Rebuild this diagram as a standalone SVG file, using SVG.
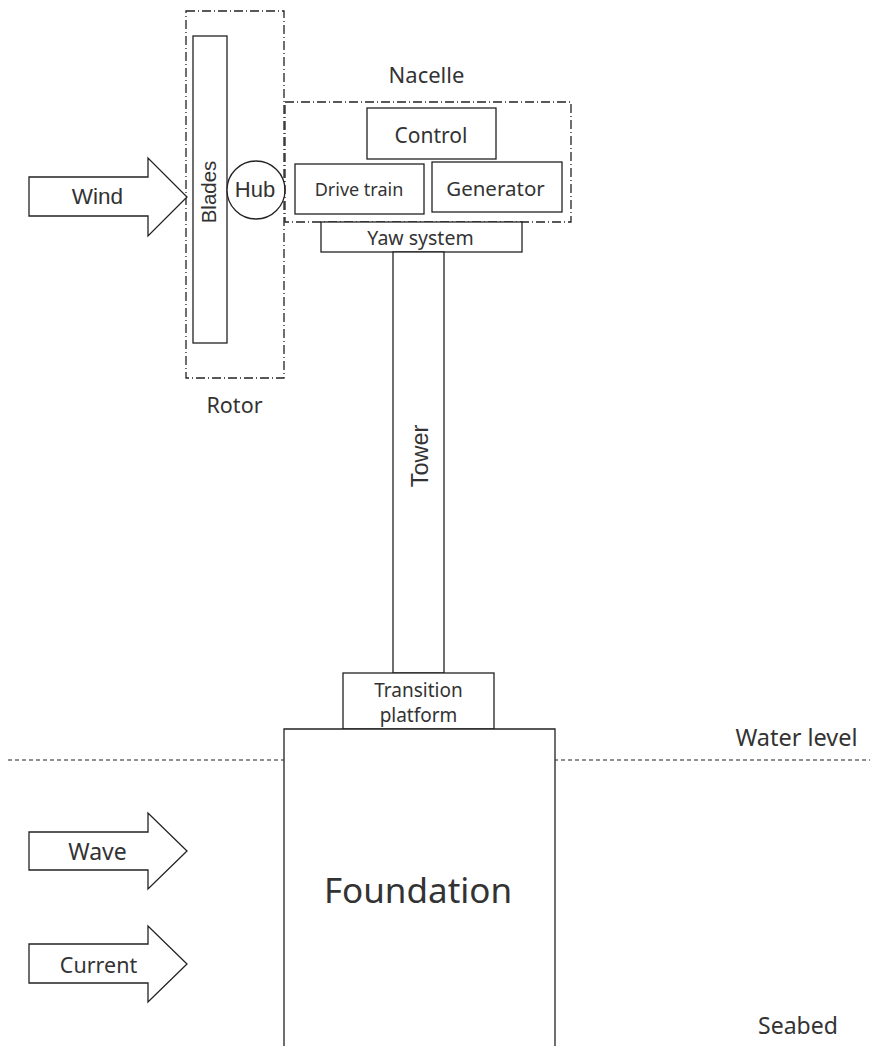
<svg xmlns="http://www.w3.org/2000/svg" width="870" height="1046" viewBox="0 0 870 1046">
<style>
.b{fill:#fff;stroke:#222;stroke-width:1.3}
.g{fill:none;stroke:#222;stroke-width:1.3;stroke-dasharray:9 3 1 3}
.t{font-family:"Noto Sans","Open Sans",sans-serif;fill:#333;text-anchor:middle}
.a{font-family:"Liberation Sans",Arial,sans-serif;fill:#333;text-anchor:middle}
</style>
<rect width="870" height="1046" fill="#fff"/>
<g id="water-level">
<line x1="8" y1="760" x2="870" y2="760" stroke="#222" stroke-width="1.2" stroke-dasharray="4 3"/>
<text class="t" x="796.5" y="746" font-size="23.5">Water level</text>
</g>
<g id="seabed"><text class="t" x="798" y="1034" font-size="23">Seabed</text></g>
<g id="rotor">
<rect class="g" x="186" y="11" width="98" height="367"/>
<text class="t" x="234.5" y="413" font-size="21.5">Rotor</text>
</g>
<g id="blades">
<rect class="b" x="193" y="36" width="34" height="307"/>
<text class="a" transform="translate(216,192) rotate(-90)" font-size="20.5">Blades</text>
</g>
<g id="hub">
<circle class="b" cx="256" cy="190" r="29"/>
<text class="a" x="255" y="197" font-size="22">Hub</text>
</g>
<g id="nacelle">
<rect class="g" x="285" y="102" width="286" height="120"/>
<text class="t" x="426.5" y="83" font-size="22">Nacelle</text>
</g>
<g id="control">
<rect class="b" x="367" y="108" width="129" height="51"/>
<text class="t" x="431" y="143" font-size="21">Control</text>
</g>
<g id="drive-train">
<rect class="b" x="295" y="164" width="129" height="50"/>
<text class="t" x="359" y="196" font-size="18">Drive train</text>
</g>
<g id="generator">
<rect class="b" x="432" y="162" width="130" height="50"/>
<text class="t" x="495.5" y="196" font-size="20.5">Generator</text>
</g>
<g id="yaw-system">
<rect class="b" x="321" y="222" width="201" height="30"/>
<text class="t" x="420.5" y="245" font-size="19.5">Yaw system</text>
</g>
<g id="tower">
<rect class="b" x="393" y="252" width="51" height="421"/>
<text class="a" transform="translate(428,456) rotate(-90)" font-size="23.5">Tower</text>
</g>
<g id="transition-platform">
<rect class="b" x="343" y="673" width="151" height="56"/>
<text class="t" x="418.5" y="697" font-size="19">Transition</text>
<text class="t" x="418.5" y="722" font-size="19">platform</text>
</g>
<g id="foundation">
<path class="b" d="M284,1047 V729 H555 V1047"/>
<text class="t" x="418" y="903" font-size="35">Foundation</text>
</g>
<g id="wind">
<path class="b" d="M29,177 H148 V158 L187,197 L148,236 V216 H29 Z"/>
<text class="a" x="97.5" y="204" font-size="22.5">Wind</text>
</g>
<g id="wave">
<path class="b" d="M29,832 H148 V813 L187,851 L148,889 V870 H29 Z"/>
<text class="t" x="97.5" y="860" font-size="23">Wave</text>
</g>
<g id="current">
<path class="b" d="M29,944 H148 V926 L187,964 L148,1002 V983 H29 Z"/>
<text class="t" x="98.5" y="973" font-size="21.5">Current</text>
</g>
<g id="connectors"></g>
</svg>
